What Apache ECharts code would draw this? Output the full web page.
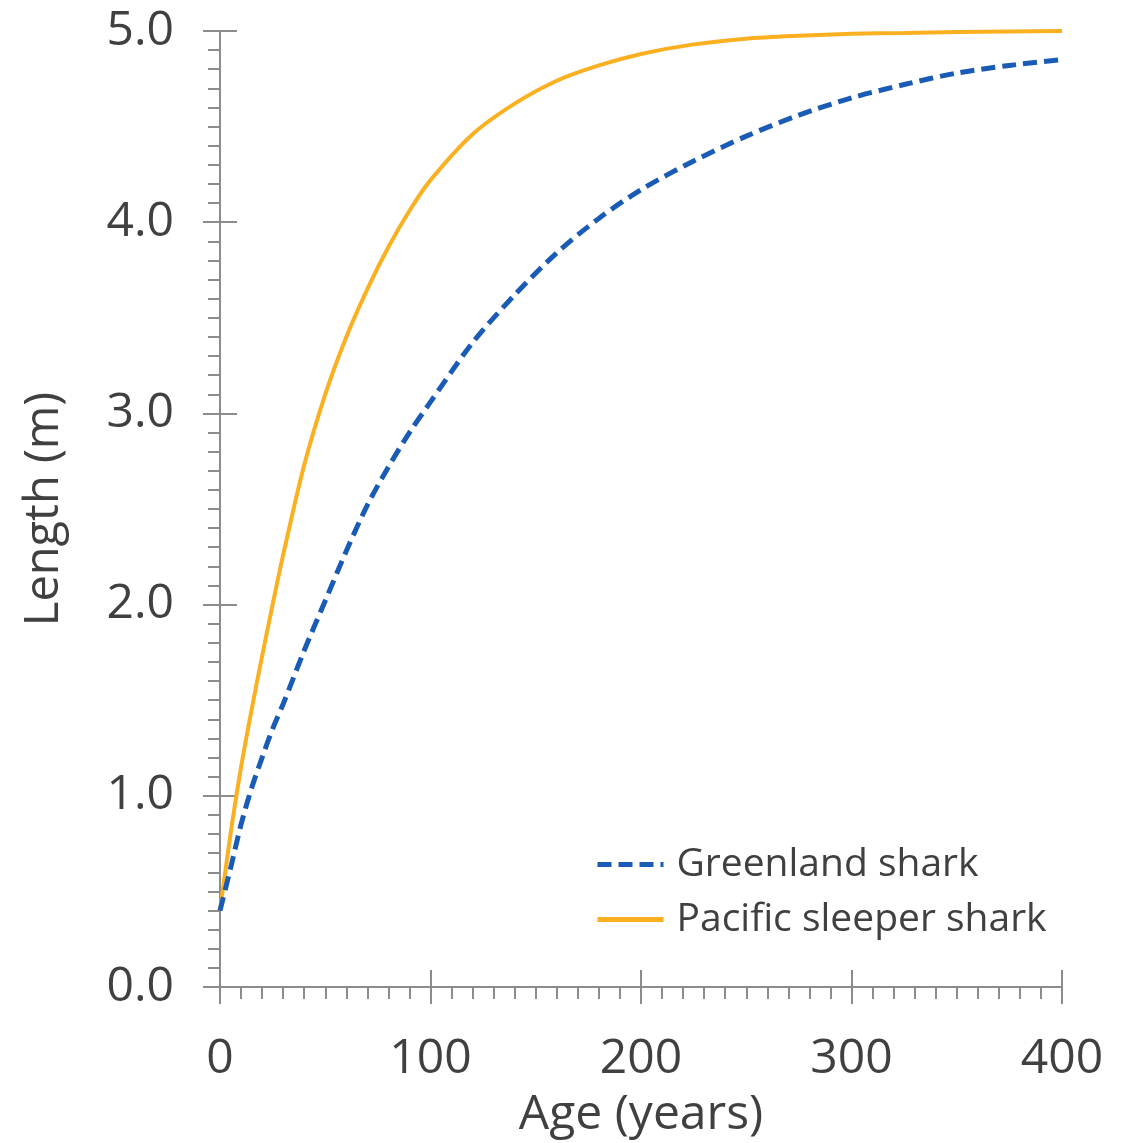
<!DOCTYPE html>
<html>
<head>
<meta charset="utf-8">
<script src="https://cdn.jsdelivr.net/npm/echarts@6/dist/echarts.min.js"></script>
<style>
html,body{margin:0;padding:0;background:#fff;}
#chart{width:1128px;height:1143px;}
</style>
</head>
<body>
<div id="chart"></div>
<script>
// Ages (years) at which lengths were read
const ages = [0,5,10,15,20,25,30,40,50,60,70,80,90,100,120,140,160,180,200,225,250,275,300,325,350,375,400];
// Greenland shark length (m)
const greenland = [0.40,0.62,0.85,1.04,1.20,1.35,1.48,1.76,2.02,2.28,2.52,2.72,2.90,3.06,3.37,3.62,3.84,4.02,4.17,4.32,4.45,4.56,4.65,4.72,4.78,4.82,4.85];
// Pacific sleeper shark length (m)
const pacific = [0.40,0.80,1.15,1.45,1.73,2.00,2.26,2.73,3.10,3.40,3.65,3.87,4.06,4.22,4.46,4.62,4.74,4.82,4.88,4.93,4.96,4.975,4.985,4.99,4.995,4.998,5.0];
const seriesNames = ['Greenland shark','Pacific sleeper shark'];
const xTicks = {min:0, max:400, interval:100};
const yTicks = {min:0, max:5, interval:1};

const axisColor = '#8c8c8c';
const textColor = '#404040';
const font = 'Open Sans';

const chart = echarts.init(document.getElementById('chart'));
const pairs = (ys) => ages.map((a,i)=>[a, ys[i]]);

chart.setOption({
  animation:false,
  backgroundColor:'#ffffff',
  grid:{left:220, right:66, top:31, bottom:156, containLabel:false, outerBoundsMode:'none'},
  legend:{
    orient:'vertical', left:590, top:840,
    itemWidth:66, itemHeight:6, itemGap:16,
    itemStyle:{opacity:0},
    lineStyle:{width:5},
    textStyle:{fontFamily:font, fontSize:39, color:textColor, padding:[0,0,0,8]},
    data:seriesNames
  },
  xAxis:[{
    type:'value', min:xTicks.min, max:xTicks.max, interval:xTicks.interval,
    position:'bottom',
    name:'Age (years)', nameLocation:'middle', nameGap:104,
    nameTextStyle:{fontFamily:font, fontSize:48, color:textColor},
    axisLine:{show:true, lineStyle:{color:axisColor, width:2}},
    axisTick:{show:true, inside:false, length:17, lineStyle:{color:axisColor, width:2}},
    minorTick:{show:true, splitNumber:10, length:12, lineStyle:{color:axisColor, width:2}},
    axisLabel:{fontFamily:font, fontSize:48, color:textColor, margin:48},
    splitLine:{show:false}
  },{
    type:'value', min:xTicks.min, max:xTicks.max, interval:xTicks.interval,
    position:'bottom', offset:0,
    axisLine:{show:false},
    axisTick:{show:true, inside:true, length:17, lineStyle:{color:axisColor, width:2}},
    axisLabel:{show:false}, splitLine:{show:false}
  }],
  yAxis:[{
    type:'value', min:yTicks.min, max:yTicks.max, interval:yTicks.interval,
    position:'left',
    name:'Length (m)', nameLocation:'middle', nameGap:152,
    nameTextStyle:{fontFamily:font, fontSize:47, color:textColor},
    axisLine:{show:true, lineStyle:{color:axisColor, width:2}},
    axisTick:{show:true, inside:false, length:17, lineStyle:{color:axisColor, width:2}},
    minorTick:{show:true, splitNumber:10, length:12, lineStyle:{color:axisColor, width:2}},
    axisLabel:{fontFamily:font, fontSize:48, color:textColor, margin:46,
      formatter:(v)=>v.toFixed(1)},
    splitLine:{show:false}
  },{
    type:'value', min:yTicks.min, max:yTicks.max, interval:yTicks.interval,
    position:'left', offset:0,
    axisLine:{show:false},
    axisTick:{show:true, inside:true, length:17, lineStyle:{color:axisColor, width:2}},
    axisLabel:{show:false}, splitLine:{show:false}
  }],
  series:[{
    name:seriesNames[0], type:'line', xAxisIndex:0, yAxisIndex:0,
    data:pairs(greenland), smooth:0.3, symbol:'none',
    lineStyle:{color:'#1a5cb5', width:5, type:[14,7]},
    itemStyle:{color:'#1a5cb5'}, z:3
  },{
    name:seriesNames[1], type:'line', xAxisIndex:0, yAxisIndex:0,
    data:pairs(pacific), smooth:0.3, symbol:'none',
    lineStyle:{color:'#fbb022', width:4},
    itemStyle:{color:'#fbb022'}, z:2
  }]
});
</script>
</body>
</html>
